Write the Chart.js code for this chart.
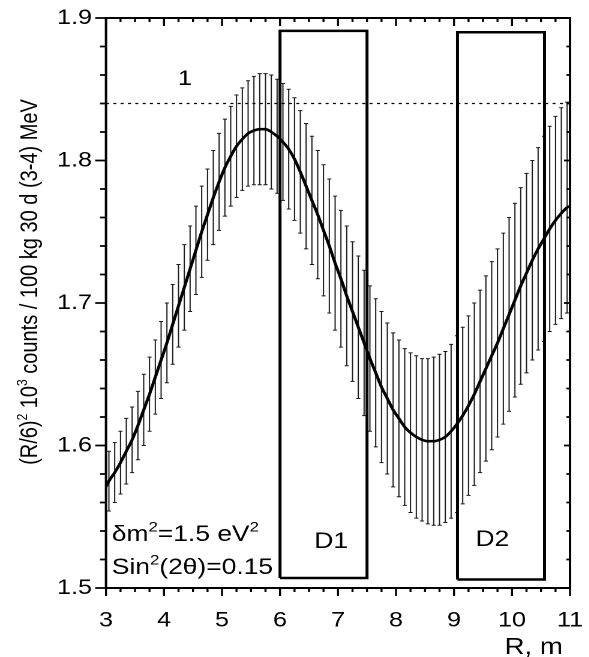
<!DOCTYPE html>
<html>
<head>
<meta charset="utf-8">
<script src="https://cdn.jsdelivr.net/npm/chart.js@4.4.1/dist/chart.umd.min.js"></script>
<style>
  html, body { margin: 0; padding: 0; background: #fff; overflow: hidden; }
  /* the reference is drawn a bit wide, so the whole chart is stretched sideways */
  #wrap { width: 491px; height: 657px; transform: scaleX(1.2); transform-origin: 0 0; }
</style>
</head>
<body>
<div id="wrap"><canvas id="chart"></canvas></div>
<script>
const FONT = '"Liberation Sans", Arial, sans-serif';

// axis ranges
const xMin = 3, xMax = 11;
const yMin = 1.5, yMax = 1.9;

// measurement points (R, m), centres and half-widths of the error bars
const barR = [3.05, 3.15, 3.25, 3.35, 3.45, 3.55, 3.65, 3.75, 3.85, 3.95,
  4.05, 4.15, 4.25, 4.35, 4.45, 4.55, 4.65, 4.75, 4.85, 4.95,
  5.05, 5.15, 5.25, 5.35, 5.45, 5.55, 5.65, 5.75, 5.85, 5.95,
  6.05, 6.15, 6.25, 6.35, 6.45, 6.55, 6.65, 6.75, 6.85, 6.95,
  7.05, 7.15, 7.25, 7.35, 7.45, 7.55, 7.65, 7.75, 7.85, 7.95,
  8.05, 8.15, 8.25, 8.35, 8.45, 8.55, 8.65, 8.75, 8.85, 8.95,
  9.05, 9.15, 9.25, 9.35, 9.45, 9.55, 9.65, 9.75, 9.85, 9.95,
  10.05, 10.15, 10.25, 10.35, 10.45, 10.55, 10.65, 10.75, 10.85, 10.95];
const barMid = [1.575, 1.581, 1.588, 1.596, 1.604, 1.614, 1.625, 1.636, 1.648, 1.660,
  1.672, 1.685, 1.698, 1.711, 1.724, 1.737, 1.750, 1.762, 1.774, 1.785,
  1.795, 1.803, 1.810, 1.815, 1.819, 1.821, 1.822, 1.822, 1.820, 1.817,
  1.813, 1.808, 1.801, 1.792, 1.782, 1.772, 1.762, 1.751, 1.740, 1.728,
  1.717, 1.705, 1.694, 1.683, 1.672, 1.661, 1.651, 1.641, 1.633, 1.625,
  1.619, 1.613, 1.609, 1.606, 1.604, 1.603, 1.603, 1.604, 1.606, 1.610,
  1.615, 1.621, 1.628, 1.636, 1.645, 1.654, 1.663, 1.672, 1.682, 1.692,
  1.702, 1.712, 1.721, 1.730, 1.738, 1.745, 1.752, 1.758, 1.763, 1.767];
const barErr = [0.021, 0.021, 0.022, 0.023, 0.023, 0.024, 0.025, 0.026, 0.026, 0.027,
  0.028, 0.028, 0.029, 0.030, 0.030, 0.031, 0.032, 0.032, 0.033, 0.034,
  0.034, 0.035, 0.036, 0.036, 0.037, 0.038, 0.039, 0.039, 0.040, 0.040,
  0.041, 0.042, 0.043, 0.043, 0.044, 0.045, 0.045, 0.046, 0.047, 0.047,
  0.048, 0.049, 0.049, 0.050, 0.051, 0.051, 0.052, 0.053, 0.053, 0.054,
  0.055, 0.055, 0.056, 0.057, 0.057, 0.058, 0.059, 0.060, 0.060, 0.061,
  0.062, 0.062, 0.063, 0.064, 0.064, 0.065, 0.066, 0.066, 0.067, 0.068,
  0.068, 0.069, 0.070, 0.070, 0.071, 0.072, 0.072, 0.073, 0.074, 0.074];

// curve end points at the frame edges
const edgeR = [3, 11];
const edgeY = [1.571, 1.768];

// dotted reference level "1"
const refLevel = 1.84;

// detector positions D1 and D2
const boxNames = ['D1', 'D2'];
const boxFrom = [6.0, 9.06];
const boxTo = [7.5, 10.56];
const boxLow = [1.507, 1.506];
const boxHigh = [1.891, 1.890];

const curvePts = [{x: edgeR[0], y: edgeY[0]}]
  .concat(barR.map((r, i) => ({x: r, y: barMid[i]})))
  .concat([{x: edgeR[1], y: edgeY[1]}]);

const boxSets = boxNames.map((name, i) => ({
  label: name,
  data: [
    {x: boxFrom[i], y: boxLow[i]}, {x: boxFrom[i], y: boxHigh[i]},
    {x: boxTo[i], y: boxHigh[i]}, {x: boxTo[i], y: boxLow[i]},
    {x: boxFrom[i], y: boxLow[i]}
  ],
  borderColor: '#000',
  borderWidth: 2.5,
  pointRadius: 0,
  tension: 0,
  fill: false
}));

function richText(ctx, parts, x0, y0, size) {
  let cx = x0;
  parts.forEach(([t, sup]) => {
    ctx.font = (sup ? Math.round(size * 0.62) : size) + 'px ' + FONT;
    ctx.fillText(t, cx, sup ? y0 - size * 0.42 : y0);
    cx += ctx.measureText(t).width;
  });
}

function richWidth(ctx, parts, size) {
  let w = 0;
  parts.forEach(([t, sup]) => {
    ctx.font = (sup ? Math.round(size * 0.62) : size) + 'px ' + FONT;
    w += ctx.measureText(t).width;
  });
  return w;
}

const extras = {
  id: 'extras',
  beforeDatasetsDraw(chart) {
    const {ctx, scales: {x, y}} = chart;
    ctx.save();
    ctx.strokeStyle = '#1a1a1a';
    ctx.lineWidth = 1;
    ctx.beginPath();
    barR.forEach((r, i) => {
      const px = x.getPixelForValue(r);
      const top = y.getPixelForValue(barMid[i] + barErr[i]);
      const bot = y.getPixelForValue(barMid[i] - barErr[i]);
      ctx.moveTo(px, top); ctx.lineTo(px, bot);
      ctx.moveTo(px - 1.7, top); ctx.lineTo(px + 1.7, top);
      ctx.moveTo(px - 1.7, bot); ctx.lineTo(px + 1.7, bot);
    });
    ctx.stroke();
    ctx.restore();
  },
  afterDraw(chart) {
    const {ctx, chartArea: a, scales: {x, y}} = chart;
    ctx.save();
    ctx.strokeStyle = '#000';
    ctx.fillStyle = '#000';

    // frame
    ctx.lineWidth = 2;
    ctx.strokeRect(a.left, a.top, a.right - a.left, a.bottom - a.top);

    // major and minor ticks on all four sides
    ctx.lineWidth = 1.7;
    ctx.beginPath();
    for (let k = 0; k <= 32; k++) {
      const px = x.getPixelForValue(xMin + k * 0.25);
      const major = k % 4 === 0;
      ctx.moveTo(px, a.bottom); ctx.lineTo(px, a.bottom + (major ? 8 : 4));
      ctx.moveTo(px, a.top); ctx.lineTo(px, a.top + (major ? 8 : 4));
    }
    for (let k = 0; k <= 20; k++) {
      const py = y.getPixelForValue(yMin + k * 0.02);
      const major = k % 5 === 0;
      ctx.moveTo(a.left, py); ctx.lineTo(a.left - (major ? 9 : 5), py);
      ctx.moveTo(a.right, py); ctx.lineTo(a.right - (major ? 5 : 3), py);
    }
    ctx.stroke();

    // y axis title with superscripts
    const title = [['(R/6)', false], ['2', true], [' 10', false], ['3', true],
      [' counts / 100 kg 30 d (3-4) MeV', false]];
    ctx.save();
    ctx.translate(31, 282);
    ctx.rotate(-Math.PI / 2);
    ctx.textBaseline = 'alphabetic';
    richText(ctx, title, -richWidth(ctx, title, 20) / 2, 0, 20);
    ctx.restore();

    // x axis title, right aligned under the axis end
    ctx.textBaseline = 'alphabetic';
    ctx.textAlign = 'right';
    ctx.font = '23px ' + FONT;
    ctx.fillText('R, m', a.right - 6, 654);
    ctx.textAlign = 'left';

    // annotations
    ctx.font = '21px ' + FONT;
    ctx.fillText('1', x.getPixelForValue(4.24), y.getPixelForValue(1.853));
    richText(ctx, [['\u03b4m', false], ['2', true], ['=1.5 eV', false], ['2', true]],
      x.getPixelForValue(3.1), y.getPixelForValue(1.533), 22);
    richText(ctx, [['Sin', false], ['2', true], ['(2\u03b8)=0.15', false]],
      x.getPixelForValue(3.1), y.getPixelForValue(1.51), 22);
    ctx.font = '22px ' + FONT;
    ctx.fillText(boxNames[0], x.getPixelForValue(6.59), y.getPixelForValue(1.528));
    ctx.fillText(boxNames[1], x.getPixelForValue(9.37), y.getPixelForValue(1.5295));
    ctx.restore();
  }
};

new Chart(document.getElementById('chart'), {
  type: 'line',
  data: {
    datasets: [
      {
        label: 'fit',
        data: curvePts,
        borderColor: '#000',
        borderWidth: 2.6,
        pointRadius: 0,
        cubicInterpolationMode: 'monotone',
        fill: false
      },
      {
        label: 'level 1',
        data: [{x: xMin, y: refLevel}, {x: xMax, y: refLevel}],
        borderColor: '#000',
        borderWidth: 1.3,
        borderDash: [2.5, 3.6],
        pointRadius: 0,
        fill: false
      }
    ].concat(boxSets)
  },
  options: {
    responsive: true,
    maintainAspectRatio: false,
    animation: false,
    devicePixelRatio: 2,
    layout: { padding: { top: 18, right: 16, left: 0, bottom: 0 } },
    plugins: { legend: { display: false }, tooltip: { enabled: false } },
    scales: {
      x: {
        type: 'linear',
        min: xMin,
        max: xMax,
        grid: { display: false, drawTicks: false },
        border: { display: false },
        ticks: { stepSize: 1, color: '#000', padding: 20, font: { family: FONT, size: 21 } },
        afterFit: (s) => { s.height = 69; s.paddingLeft = 0; s.paddingRight = 0; }
      },
      y: {
        min: yMin,
        max: yMax,
        grid: { display: false, drawTicks: false },
        border: { display: false },
        ticks: { stepSize: 0.1, color: '#000', padding: 11.6, font: { family: FONT, size: 21 },
          callback: (v) => v.toFixed(1) },
        afterFit: (s) => { s.width = 88.33; s.paddingTop = 0; s.paddingBottom = 0; }
      }
    }
  },
  plugins: [extras]
});
</script>
</body>
</html>
